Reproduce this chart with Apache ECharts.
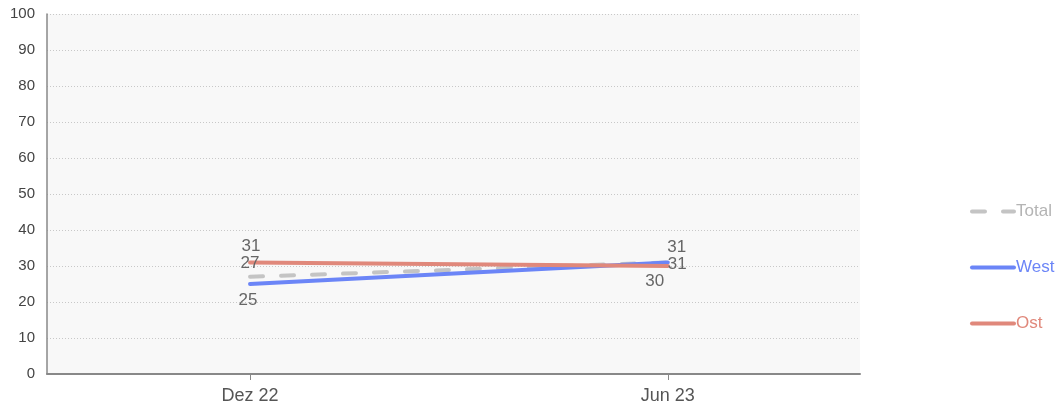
<!DOCTYPE html>
<html>
<head>
<meta charset="utf-8">
<script src="https://cdn.jsdelivr.net/npm/echarts@6/dist/echarts.min.js"></script>
<style>
  html, body { margin: 0; padding: 0; background: #fff; }
  #chart { width: 1063px; height: 407px; }
</style>
</head>
<body>
<div id="chart"></div>
<script>
// Survey waves shown on the x axis
const categories = ['Dez 22', 'Jun 23'];
// Values per series, one per wave
const totalValues = [27, 31];
const westValues = [25, 31];
const ostValues = [31, 30];
// Y axis ticks
const yTicks = [0, 10, 20, 30, 40, 50, 60, 70, 80, 90, 100];

const labelColor = '#666';
const labelFont = 17;
const font = 'Arial, Liberation Sans, sans-serif';

// Points are placed by wave index on a value axis so the padding around them can be set freely
function pts(values, labels) {
  return values.map((v, i) => ({
    value: [i, v],
    label: Object.assign({ show: true, color: labelColor, fontSize: labelFont, fontFamily: font,
      formatter: (p) => p.value[1] }, labels[i])
  }));
}

const chart = echarts.init(document.getElementById('chart'));
chart.setOption({
  animation: false,
  grid: { left: 47, right: 203, top: 14, bottom: 33, show: true, backgroundColor: '#f8f8f8', borderWidth: 0 },
  legend: {
    orient: 'vertical',
    left: 965,
    top: 198,
    itemWidth: 42,
    itemHeight: 14,
    itemGap: 39,
    itemStyle: { opacity: 0 },
    lineStyle: { width: 4, cap: 'round' },
    textStyle: { fontSize: 17, fontFamily: font, padding: [0, 0, 0, -3] },
    data: [
      { name: 'Total', textStyle: { color: '#b4b4b4' } },
      { name: 'West', textStyle: { color: '#6b85f7' } },
      { name: 'Ost', textStyle: { color: '#e0887b' } }
    ]
  },
  xAxis: {
    type: 'value',
    min: -0.486,
    max: 1.46,
    splitLine: { show: false },
    axisLine: { show: true, onZero: false, lineStyle: { color: '#888', width: 2 } },
    axisTick: { show: true, customValues: [0, 1], length: 6, lineStyle: { color: '#888' } },
    axisLabel: {
      customValues: [0, 1],
      formatter: (v) => categories[Math.round(v)],
      color: '#555', fontSize: 18, margin: 13,
      fontFamily: font
    }
  },
  yAxis: {
    type: 'value',
    min: yTicks[0],
    max: yTicks[yTicks.length - 1],
    interval: 10,
    axisLine: { show: true, onZero: false, lineStyle: { color: '#888', width: 1.5 } },
    axisTick: { show: false },
    splitLine: { show: true, lineStyle: { color: '#c8c8c8', type: [1, 2], width: 1 } },
    axisLabel: { color: '#444', fontSize: 15, margin: 12, fontFamily: font }
  },
  series: [
    {
      name: 'Total', type: 'line', symbol: 'circle', symbolSize: 0,
      itemStyle: { color: '#c4c4c4' },
      lineStyle: { color: '#c4c4c4', width: 4, type: [13, 18], cap: 'round' },
      data: pts(totalValues, [
        { position: 'top', distance: 5 },
        { position: 'right', distance: 0, offset: [0, 2] }
      ])
    },
    {
      name: 'West', type: 'line', symbol: 'circle', symbolSize: 0,
      itemStyle: { color: '#6b85f7' },
      lineStyle: { color: '#6b85f7', width: 4, cap: 'round' },
      data: pts(westValues, [
        { position: 'bottom', distance: 8, offset: [-2, 0] },
        { position: 'top', distance: 7, offset: [9, 0] }
      ])
    },
    {
      name: 'Ost', type: 'line', symbol: 'circle', symbolSize: 0,
      itemStyle: { color: '#e0887b' },
      lineStyle: { color: '#e0887b', width: 4, cap: 'round' },
      data: pts(ostValues, [
        { position: 'top', distance: 8, offset: [1, 0] },
        { position: 'bottom', distance: 7, offset: [-13, 0] }
      ])
    }
  ]
});
</script>
</body>
</html>
